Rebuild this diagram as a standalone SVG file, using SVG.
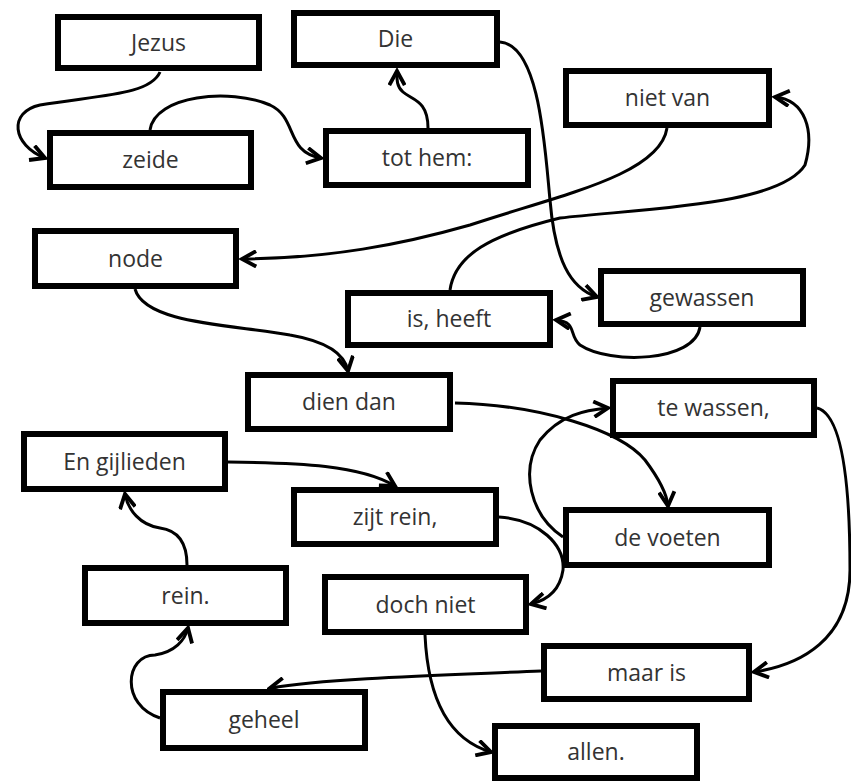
<svg xmlns="http://www.w3.org/2000/svg" width="851" height="782" viewBox="0 0 851 782">
<style>
.box rect{fill:#fff;stroke:#000;stroke-width:6}
.box text{font-family:"Open Sans","Liberation Sans",sans-serif;font-size:23px;fill:#333;text-anchor:middle}
.conn path{fill:none;stroke:#000;stroke-width:3;marker-end:url(#arr)}
</style>
<defs>
<marker id="arr" markerUnits="userSpaceOnUse" markerWidth="18" markerHeight="18" viewBox="0 0 14 14" refX="12" refY="7" orient="auto">
<path d="M1,1 L12,7 L1,13" fill="none" stroke="#000" stroke-width="3"/>
</marker>
</defs>
<g class="conn">
<path d="M160,72 C150,95 100,95 40,105 C8,112 12,145 45,158"/>
<path d="M150,130 C155,95 230,88 270,105 C298,118 285,152 321,158"/>
<path d="M428,128 C428,100 412,100 403,92 C396,86 397,78 397,71"/>
<path d="M500,42 C540,45 545,150 550,200 C555,260 570,288 597,297"/>
<path d="M667,128 C660,175 560,195 470,225 C400,245 330,258 242,259"/>
<path d="M450,290 C455,255 490,235 560,218 C650,208 780,205 805,165 C815,130 805,100 775,97"/>
<path d="M700,327 C695,362 610,365 580,345 C568,335 578,322 556,320"/>
<path d="M135,289 C145,325 240,325 290,335 C330,342 345,355 348,371"/>
<path d="M455,403 C540,405 620,430 645,460 C660,480 667,495 668,506"/>
<path d="M563,537 C530,515 520,470 540,440 C560,415 585,410 608,408"/>
<path d="M499,517 C540,520 565,545 563,570 C560,590 548,600 531,604"/>
<path d="M817,408 C845,415 850,500 850,570 C850,640 800,665 754,672"/>
<path d="M228,462 C300,463 360,465 395,486"/>
<path d="M187,565 C187,540 175,530 160,528 C140,525 128,510 125,494"/>
<path d="M160,718 C120,705 125,655 155,655 C175,652 185,640 188,628"/>
<path d="M541,671 C450,675 330,678 270,688"/>
<path d="M425,635 C428,700 450,740 491,752"/>
</g>
<g id="n-jezus" class="box"><rect x="58" y="17" width="201" height="51"/><text x="158.5" y="51">Jezus</text></g>
<g id="n-zeide" class="box"><rect x="50" y="133" width="201" height="54"/><text x="150.5" y="168">zeide</text></g>
<g id="n-die" class="box"><rect x="294" y="13" width="203" height="52"/><text x="395.5" y="47">Die</text></g>
<g id="n-tothem" class="box"><rect x="326" y="131" width="202" height="54"/><text x="427" y="166">tot hem:</text></g>
<g id="n-nietvan" class="box"><rect x="566" y="71" width="203" height="54"/><text x="667.5" y="106">niet van</text></g>
<g id="n-gewassen" class="box"><rect x="601" y="271" width="202" height="53"/><text x="702" y="305.5">gewassen</text></g>
<g id="n-node" class="box"><rect x="35" y="231" width="201" height="55"/><text x="135.5" y="266.5">node</text></g>
<g id="n-isheeft" class="box"><rect x="348" y="293" width="202" height="52"/><text x="449" y="327">is, heeft</text></g>
<g id="n-diendan" class="box"><rect x="248" y="375" width="202" height="54"/><text x="349" y="410">dien dan</text></g>
<g id="n-tewassen" class="box"><rect x="613" y="381" width="201" height="54"/><text x="713.5" y="416">te wassen,</text></g>
<g id="n-engijlieden" class="box"><rect x="24" y="434" width="201" height="55"/><text x="124.5" y="469.5">En gijlieden</text></g>
<g id="n-zijtrein" class="box"><rect x="294" y="490" width="202" height="54"/><text x="395" y="525">zijt rein,</text></g>
<g id="n-devoeten" class="box"><rect x="566" y="510" width="203" height="55"/><text x="667.5" y="545.5">de voeten</text></g>
<g id="n-rein" class="box"><rect x="85" y="568" width="201" height="55"/><text x="185.5" y="603.5">rein.</text></g>
<g id="n-dochniet" class="box"><rect x="325" y="577" width="201" height="55"/><text x="425.5" y="612.5">doch niet</text></g>
<g id="n-maaris" class="box"><rect x="544" y="646" width="205" height="53"/><text x="646.5" y="680.5">maar is</text></g>
<g id="n-geheel" class="box"><rect x="163" y="692" width="202" height="56"/><text x="264" y="728">geheel</text></g>
<g id="n-allen" class="box"><rect x="495" y="726" width="202" height="52"/><text x="596" y="760">allen.</text></g>
</svg>
